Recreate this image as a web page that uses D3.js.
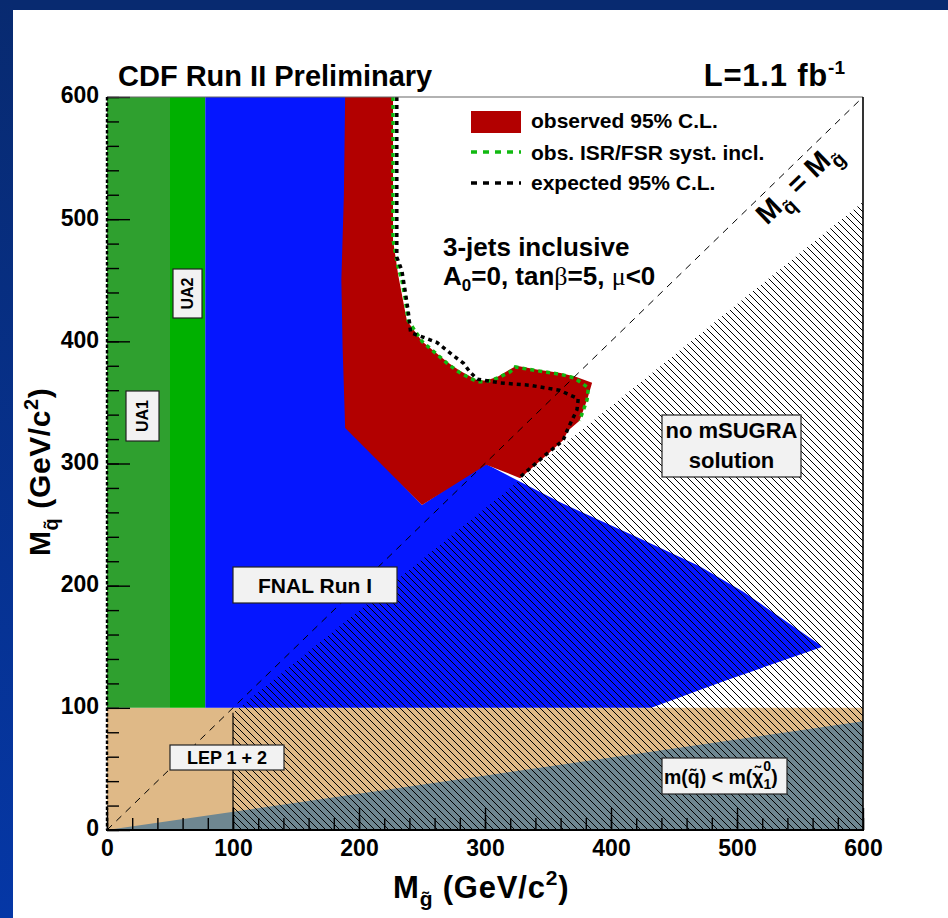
<!DOCTYPE html>
<html>
<head>
<meta charset="utf-8">
<script src="https://cdn.jsdelivr.net/npm/d3@7"></script>
<style>
  html, body { margin: 0; padding: 0; background: #fff; }
  svg { display: block; font-family: "Liberation Sans", Arial, Helvetica, sans-serif; }
</style>
</head>
<body>
<svg id="chart" width="948" height="918"></svg>
<script>
// ---- data (GeV/c^2) ----
const xTickValues = [0, 100, 200, 300, 400, 500, 600];
const yTickValues = [0, 100, 200, 300, 400, 500, 600];
const minorTickValues = d3.range(0, 601, 20);

// excluded regions from earlier experiments
const ua1Region = [[0, 100], [0, 600], [50, 600], [50, 100]];
const ua2Region = [[50, 100], [50, 600], [78, 600], [78, 100]];
const fnalRunIRegion = [[78, 100], [78, 600], [190, 600], [190, 330], [250, 266], [300, 300],
  [360, 268], [420, 240], [470, 216], [505, 195], [540, 170], [568, 150], [490, 122], [432, 100]];
const lepRegion = [[0, 0], [0, 100], [600, 100], [600, 0]];
const neutralinoLspRegion = [[0, 0], [600, 89], [600, 0]];
const noSolutionRegion = [[100, 0], [100, 96], [600, 514], [600, 0]];

// CDF Run II 3-jets exclusion
const observedRegion = [[189, 600], [227, 600], [227, 483], [231, 455], [238, 417], [250, 400],
  [270, 383], [280, 376], [287, 372], [294, 368], [301, 368], [310, 371], [318, 376], [325, 380],
  [341, 377], [360, 374], [372, 371], [385, 366], [381, 352], [375, 335], [366, 327], [362, 319],
  [349, 307], [328, 288], [301, 299], [250, 266], [189, 329], [187, 395], [186, 450], [188, 520]];
const isrFsrContour = [[227, 600], [227, 483], [229, 472], [231, 461], [234, 450], [236.5, 436],
  [239, 417], [250, 400], [270, 382], [279, 375], [286, 371], [294, 367], [301, 367], [310, 370],
  [320, 375], [324, 379], [341, 376], [360, 373], [371, 370], [382, 362], [381, 352], [375, 335]];
const expectedContour = [[230, 600], [230, 469], [234, 458], [236.5, 442], [239, 425], [241, 407],
  [252, 403], [262, 399], [268, 394], [274, 389], [283, 382], [288, 375], [294, 369], [312, 366],
  [336, 364], [359, 360], [374, 353], [373, 344], [366, 329], [362, 319], [348, 307], [328, 289]];
const equalMassLine = [[0, 0], [600, 600]];

const legendEntries = ["observed 95% C.L.", "obs. ISR/FSR syst. incl.", "expected 95% C.L."];

// ---- scales ----
const svg = d3.select("#chart");
const x = d3.scaleLinear().domain([0, 600]).range([107, 863]);
const y = d3.scaleLinear().domain([0, 600]).range([830, 97]);
const line = d3.line().x(d => x(d[0])).y(d => y(d[1]));
const area = pts => line(pts) + "Z";

// ---- page frame ----
const defs = svg.append("defs");
const grad = defs.append("linearGradient").attr("id", "frameGrad")
  .attr("x1", 0).attr("y1", 0).attr("x2", 0).attr("y2", 1);
grad.append("stop").attr("offset", 0).attr("stop-color", "#082a70");
grad.append("stop").attr("offset", 1).attr("stop-color", "#0537a6");
svg.append("rect").attr("x", 0).attr("y", 0).attr("width", 948).attr("height", 918).attr("fill", "#fff");
svg.append("rect").attr("x", 0).attr("y", 0).attr("width", 948).attr("height", 10).attr("fill", "#082a70");
svg.append("rect").attr("x", 0).attr("y", 0).attr("width", 13).attr("height", 918).attr("fill", "url(#frameGrad)");

// hatch pattern ("\" lines) for the "no mSUGRA solution" area
const hs = 7;
const hatch = defs.append("pattern").attr("id", "hatch")
  .attr("patternUnits", "userSpaceOnUse").attr("width", hs).attr("height", hs);
[[0, 0, hs, hs], [-1, hs - 1, 1, hs + 1], [hs - 1, -1, hs + 1, 1]].forEach(s => {
  hatch.append("line").attr("x1", s[0]).attr("y1", s[1]).attr("x2", s[2]).attr("y2", s[3])
    .attr("stroke", "#000").attr("stroke-width", 1);
});

// ---- filled regions ----
const plot = svg.append("g");
plot.append("path").attr("d", area(lepRegion)).attr("fill", "#dfb987");
plot.append("path").attr("d", area(neutralinoLspRegion)).attr("fill", "#6f8791");
plot.append("path").attr("d", area(ua1Region)).attr("fill", "#2fa02f");
plot.append("path").attr("d", area(ua2Region)).attr("fill", "#00b000");
plot.append("path").attr("d", area(fnalRunIRegion)).attr("fill", "#0516ff");
plot.append("path").attr("d", area(observedRegion)).attr("fill", "#b20000");
plot.append("path").attr("d", area(noSolutionRegion)).attr("fill", "url(#hatch)");
plot.append("path").attr("d", line([[100, 0], [100, 96]])).attr("stroke", "#000").attr("stroke-width", 1.2).attr("fill", "none");

// M(squark) = M(gluino)
plot.append("path").attr("d", line(equalMassLine)).attr("fill", "none")
  .attr("stroke", "#000").attr("stroke-width", 1).attr("stroke-dasharray", "7,6");

// contours
plot.append("path").attr("d", line(isrFsrContour)).attr("fill", "none")
  .attr("stroke", "#11b911").attr("stroke-width", 3.5).attr("stroke-dasharray", "4,4");
plot.append("path").attr("d", line(expectedContour)).attr("fill", "none")
  .attr("stroke", "#000").attr("stroke-width", 3.5).attr("stroke-dasharray", "4,4");

// ---- label boxes ----
function box(x0, y0, x1, y1) {
  svg.append("rect").attr("x", x0).attr("y", y0).attr("width", x1 - x0).attr("height", y1 - y0)
    .attr("fill", "#f2f2f2").attr("stroke", "#222").attr("stroke-width", 1.2);
}
box(126, 391, 159, 441);
svg.append("text").attr("transform", "translate(142.5,416) rotate(-90)")
  .attr("text-anchor", "middle").attr("dy", "0.36em")
  .attr("font-size", 16).attr("font-weight", "bold").text("UA1");
box(173, 269, 202, 318);
svg.append("text").attr("transform", "translate(187.5,293.5) rotate(-90)")
  .attr("text-anchor", "middle").attr("dy", "0.36em")
  .attr("font-size", 16).attr("font-weight", "bold").text("UA2");
box(233, 567, 397, 603);
svg.append("text").attr("x", 315).attr("y", 593).attr("text-anchor", "middle")
  .attr("font-size", 21).attr("font-weight", "bold").text("FNAL Run I");
box(170, 745, 284, 770);
svg.append("text").attr("x", 227).attr("y", 764).attr("text-anchor", "middle")
  .attr("font-size", 18).attr("font-weight", "bold").text("LEP 1 + 2");
box(662, 415, 801, 477);
svg.append("text").attr("x", 731.5).attr("y", 438).attr("text-anchor", "middle")
  .attr("font-size", 22).attr("font-weight", "bold").text("no mSUGRA");
svg.append("text").attr("x", 731.5).attr("y", 468).attr("text-anchor", "middle")
  .attr("font-size", 22).attr("font-weight", "bold").text("solution");
box(662, 758, 787, 794);
const lsp = svg.append("text").attr("x", 664).attr("y", 784)
  .attr("font-size", 19.5).attr("font-weight", "bold");
lsp.append("tspan").text("m(q\u0303) < m(\u03C7\u0303");
lsp.append("tspan").attr("dy", 5).attr("font-size", 14).text("1");
lsp.append("tspan").attr("dx", -8).attr("dy", -18).attr("font-size", 14).text("0");
lsp.append("tspan").attr("dy", 13).text(")");

// ---- axes ----
const axes = svg.append("g");
axes.append("g").attr("transform", "translate(0,830)")
  .call(d3.axisBottom(x).tickValues(minorTickValues).tickSize(-12).tickFormat(""));
axes.append("g").attr("transform", "translate(0,830)")
  .call(d3.axisBottom(x).tickValues(xTickValues).tickSize(-22).tickPadding(10));
axes.append("g").attr("transform", "translate(107,0)")
  .call(d3.axisLeft(y).tickValues(minorTickValues).tickSize(-12).tickFormat(""));
const yMajor = axes.append("g").attr("transform", "translate(107,0)")
  .call(d3.axisLeft(y).tickValues(yTickValues).tickSize(-23).tickPadding(8));
axes.selectAll(".domain").remove();
axes.selectAll(".tick line").attr("stroke", "#000").attr("stroke-width", 1.4);
axes.selectAll(".tick text").attr("fill", "#000").attr("font-size", 23).attr("font-weight", "bold")
  .attr("font-family", "Liberation Sans, Arial, sans-serif");
yMajor.selectAll(".tick text").attr("dy", "0.26em");

// frame
svg.append("line").attr("x1", 107).attr("y1", 97).attr("x2", 863).attr("y2", 97).attr("stroke", "#666").attr("stroke-width", 1.2);
svg.append("line").attr("x1", 863).attr("y1", 97).attr("x2", 863).attr("y2", 831).attr("stroke", "#000").attr("stroke-width", 1.6);
svg.append("line").attr("x1", 106).attr("y1", 830).attr("x2", 864).attr("y2", 830).attr("stroke", "#000").attr("stroke-width", 2);
svg.append("line").attr("x1", 107).attr("y1", 97).attr("x2", 107).attr("y2", 830).attr("stroke", "#000")
  .attr("stroke-width", 2.4).attr("stroke-dasharray", "3.5,2");

// axis titles
const xt = svg.append("text").attr("x", 393).attr("y", 898).attr("font-size", 31)
  .attr("font-weight", "bold").attr("letter-spacing", 0.8);
xt.append("tspan").text("M");
xt.append("tspan").attr("dy", 8).attr("font-size", 21).text("g\u0303");
xt.append("tspan").attr("dy", -8).text(" (GeV/c");
xt.append("tspan").attr("dy", -13).attr("font-size", 21).text("2");
xt.append("tspan").attr("dy", 13).text(")");

const yt = svg.append("text").attr("transform", "translate(50,556) rotate(-90)").attr("font-size", 30)
  .attr("font-weight", "bold").attr("letter-spacing", 0.6);
yt.append("tspan").text("M");
yt.append("tspan").attr("dy", 8).attr("font-size", 20).text("q\u0303");
yt.append("tspan").attr("dy", -8).text(" (GeV/c");
yt.append("tspan").attr("dy", -12).attr("font-size", 20).text("2");
yt.append("tspan").attr("dy", 12).text(")");

// titles
svg.append("text").attr("x", 118).attr("y", 86).attr("font-size", 29).attr("font-weight", "bold")
  .text("CDF Run II Preliminary");
const lumi = svg.append("text").attr("x", 845).attr("y", 86).attr("text-anchor", "end")
  .attr("font-size", 31).attr("font-weight", "bold").attr("letter-spacing", 0.8);
lumi.append("tspan").text("L=1.1 fb");
lumi.append("tspan").attr("dy", -12).attr("font-size", 19).attr("letter-spacing", 0).text("-1");

// analysis description
svg.append("text").attr("x", 443).attr("y", 256).attr("font-size", 26).attr("font-weight", "bold")
  .text("3-jets inclusive");
const desc = svg.append("text").attr("x", 443).attr("y", 285).attr("font-size", 26).attr("font-weight", "bold");
desc.append("tspan").text("A");
desc.append("tspan").attr("dy", 6).attr("font-size", 17).text("0");
desc.append("tspan").attr("dy", -6).text("=0, tan");
desc.append("tspan").attr("font-family", "Liberation Serif, serif").attr("font-weight", "normal").text("\u03B2");
desc.append("tspan").text("=5, ");
desc.append("tspan").attr("font-family", "Liberation Serif, serif").attr("font-weight", "normal").text("\u03BC");
desc.append("tspan").text("<0");

// equal-mass label along the diagonal
const eq = svg.append("text").attr("transform", "translate(804,190) rotate(-44)")
  .attr("text-anchor", "middle").attr("font-size", 28).attr("font-weight", "bold");
eq.append("tspan").text("M");
eq.append("tspan").attr("dy", 9).attr("font-size", 20).text("q\u0303");
eq.append("tspan").attr("dy", -9).text(" = M");
eq.append("tspan").attr("dy", 9).attr("font-size", 20).text("g\u0303");

// ---- legend ----
const legend = svg.append("g");
legend.append("rect").attr("x", 471).attr("y", 111).attr("width", 50).attr("height", 22).attr("fill", "#b20000");
legend.append("line").attr("x1", 471).attr("x2", 521).attr("y1", 152).attr("y2", 152)
  .attr("stroke", "#11b911").attr("stroke-width", 3.5).attr("stroke-dasharray", "6,6");
legend.append("line").attr("x1", 471).attr("x2", 521).attr("y1", 183).attr("y2", 183)
  .attr("stroke", "#000").attr("stroke-width", 3.5).attr("stroke-dasharray", "6,6");
const legendY = [128, 160, 190];
legend.selectAll("text.entry").data(legendEntries).join("text").attr("class", "entry")
  .attr("x", 531).attr("y", (d, i) => legendY[i]).attr("font-size", 21).attr("font-weight", "bold")
  .text(d => d);
</script>
</body>
</html>
